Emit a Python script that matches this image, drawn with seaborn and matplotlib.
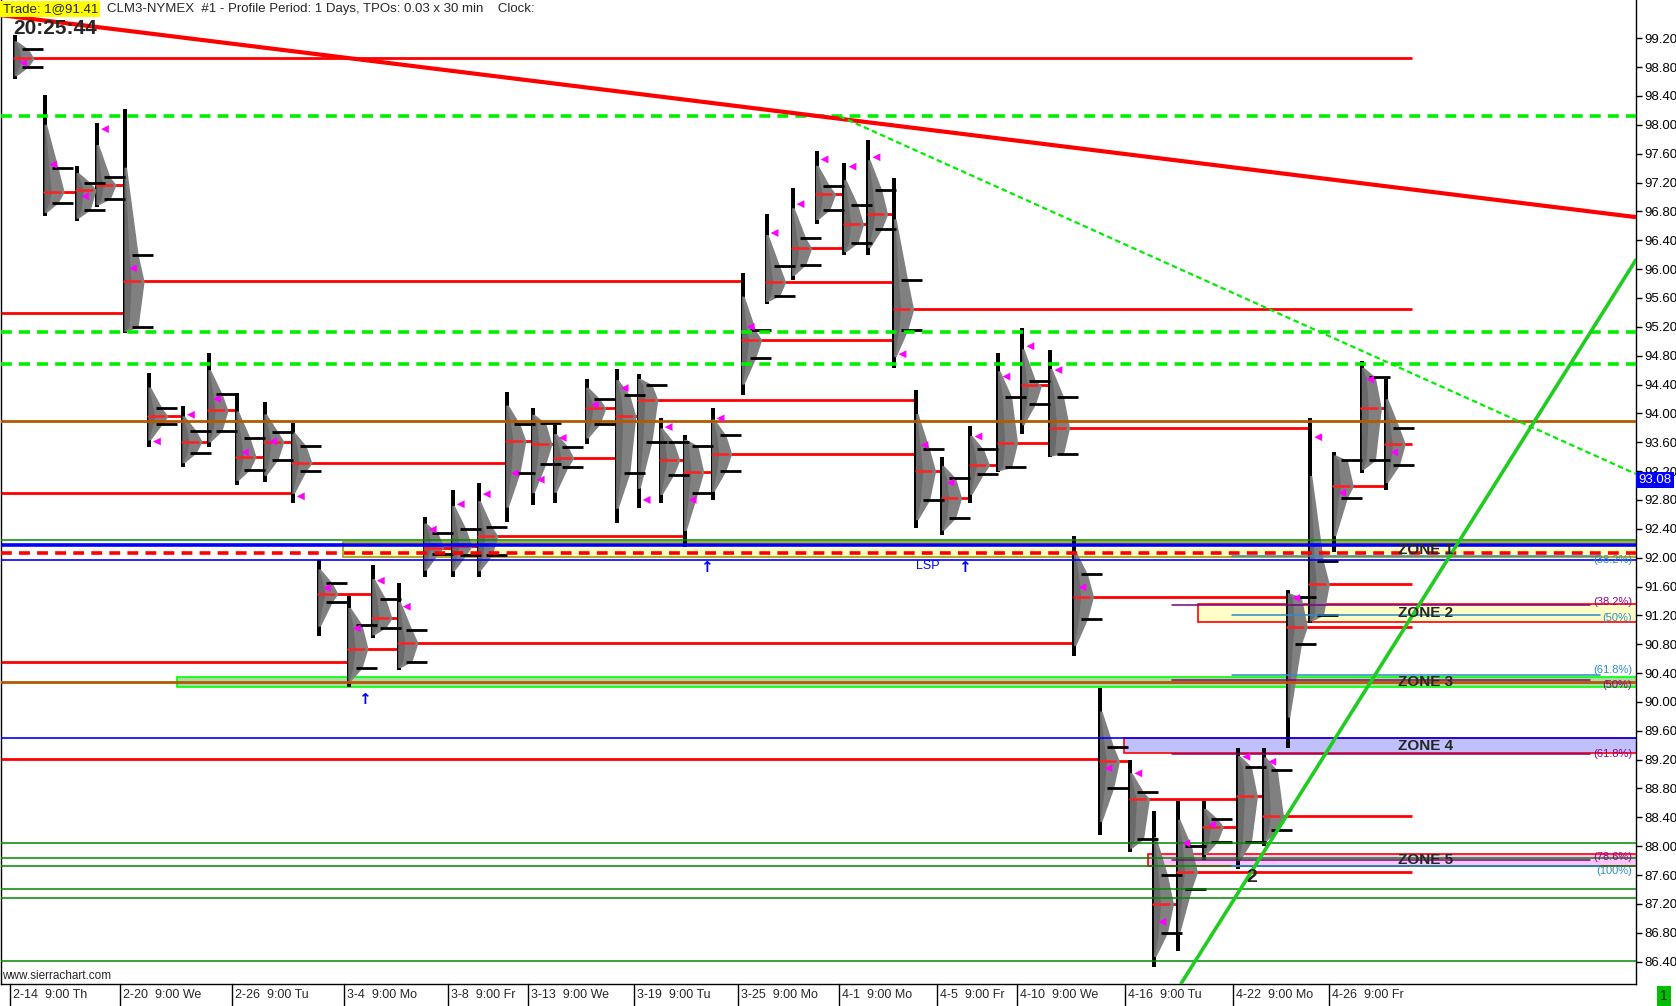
import numpy as np
import pandas as pd
import seaborn as sns
import matplotlib.pyplot as plt
import matplotlib.transforms as mtransforms
from matplotlib.patches import Rectangle

# ---- daily TPO profiles (x = chart bar of each session, prices)
bar = [6, 21, 37, 47, 61, 73, 90, 103, 117, 131, 145, 158, 173, 185, 198, 211, 225, 238, 252, 265,
       276, 292, 307, 318, 329, 341, 355, 370, 382, 395, 407, 421, 433, 446, 457, 470, 484, 498, 510, 524,
       536, 549, 564, 576, 588, 601, 618, 631, 643, 654, 666, 680, 692]
high = [99.24, 98.41, 97.43, 98.03, 98.22, 94.56, 94.10, 94.83, 94.28, 94.16,
        93.87, 91.97, 91.47, 91.90, 91.65, 92.57, 92.94, 93.03, 94.29, 94.07,
        93.84, 94.47, 94.61, 94.54, 93.93, 93.70, 94.07, 95.94, 96.77, 97.13,
        97.63, 97.47, 97.79, 97.26, 94.33, 93.39, 93.82, 94.83, 95.19, 94.88,
        92.30, 90.20, 89.20, 88.49, 88.62, 88.62, 89.36, 89.36, 91.55, 93.93,
        93.47, 94.73, 94.47]
low = [98.63, 96.73, 96.66, 96.86, 95.11, 93.54, 93.26, 93.54, 93.01, 93.05,
       92.76, 90.91, 90.21, 90.89, 90.44, 91.73, 91.73, 91.73, 92.50, 92.73,
       92.76, 93.58, 92.48, 92.69, 92.76, 92.15, 92.80, 94.25, 95.52, 95.85,
       96.63, 96.19, 96.19, 94.63, 92.41, 92.31, 92.76, 93.19, 93.72, 93.40,
       90.63, 88.15, 87.92, 86.33, 86.55, 87.81, 87.69, 88.00, 89.36, 91.09,
       92.08, 93.17, 92.94]
poc = [98.92, 97.07, 97.10, 97.17, 95.83, 93.96, 93.61, 94.04, 93.40, 93.61,
       93.31, 91.50, 90.74, 91.16, 90.82, 92.14, 92.16, 92.30, 93.62, 93.57,
       93.38, 94.07, 93.96, 94.19, 93.35, 93.19, 93.44, 95.02, 95.82, 96.29,
       97.04, 96.62, 96.76, 95.44, 93.20, 92.83, 93.28, 93.59, 94.39, 93.80,
       91.46, 89.18, 88.66, 87.20, 87.64, 88.27, 88.69, 88.42, 91.04, 91.63,
       92.99, 94.07, 93.58]
vah = [99.05, 97.40, 97.20, 97.27, 96.20, 94.07, 93.76, 94.27, 93.66, 93.74,
       93.55, 91.65, 91.07, 91.42, 91.00, 92.34, 92.40, 92.43, 93.85, 93.86,
       93.54, 94.20, 94.25, 94.40, 93.60, 93.55, 93.70, 95.15, 96.04, 96.43,
       97.15, 96.89, 97.10, 95.85, 93.50, 93.10, 93.50, 94.23, 94.45, 94.23,
       91.77, 89.38, 88.75, 87.60, 88.00, 88.38, 89.10, 89.05, 91.45, 91.95,
       93.35, 94.50, 93.80]
val = [98.80, 96.92, 96.82, 96.97, 95.20, 93.85, 93.45, 93.76, 93.22, 93.36,
       93.20, 91.38, 90.47, 91.03, 90.56, 92.05, 92.03, 92.03, 93.17, 93.30,
       93.25, 93.85, 93.17, 93.60, 93.15, 92.90, 93.20, 94.77, 95.63, 96.06,
       96.82, 96.36, 96.55, 95.15, 92.80, 92.55, 93.16, 93.25, 94.13, 93.44,
       91.15, 88.80, 88.10, 86.80, 87.40, 88.06, 88.06, 88.22, 90.80, 91.20,
       92.83, 93.35, 93.28]
close = [98.86, 97.45, 97.01, 97.94, 96.01, 93.61, 93.98, 94.20, 93.46, 93.61,
         92.85, 91.58, 91.02, 91.68, 91.32, 92.39, 92.74, 92.88, 93.17, 93.08,
         93.66, 94.12, 94.35, 92.80, 93.81, 92.80, 93.93, 95.20, 96.50, 96.90,
         97.52, 97.42, 97.55, 94.82, 93.56, 93.04, 93.68, 94.51, 94.93, 94.60,
         91.59, 89.08, 89.01, 86.95, 88.04, 88.30, 89.24, 89.17, 91.44, 93.67,
         92.90, 94.47, 93.46]

# naked POCs of sessions left of the visible range
prior_poc = [95.39, 92.90, 90.56, 89.21]

# time scale labels
tick_session = [0, 4, 8, 12, 16, 19, 23, 27, 31, 35, 38, 42, 46, 50]
tick_label = ["2-14  9:00 Th", "2-20  9:00 We", "2-26  9:00 Tu", "3-4  9:00 Mo", "3-8  9:00 Fr",
              "3-13  9:00 We", "3-19  9:00 Tu", "3-25  9:00 Mo", "4-1  9:00 Mo", "4-5  9:00 Fr",
              "4-10  9:00 We", "4-16  9:00 Tu", "4-22  9:00 Mo", "4-26  9:00 Fr"]

# drawn levels
green_dash_levels = [98.12, 95.13, 94.69]
brown_levels = [93.90, 90.27]
thin_green_levels = [92.25, 88.05, 87.84, 87.73, 87.40, 87.28, 86.41]
blue_thin_levels = [91.97, 89.50]
blue_thick_level = 92.17
red_dash_level = 92.07

zone_name = ["ZONE 1", "ZONE 2", "ZONE 3", "ZONE 4", "ZONE 5"]
zone_low = [92.01, 91.11, 90.21, 89.29, 87.72]
zone_high = [92.21, 91.36, 90.35, 89.50, 87.89]
zone_from = [12, 45, 6, 42, 43]
zone_face = ["#ffffc4", "#ffffc8", "#aadcaa", "#c0c0fc", "#ffc4ff"]
zone_edge = ["#a0a000", "#ff0000", "#00ff00", "#ff0000", "#ff0000"]

fib_purple = [91.35, 90.30, 89.28, 87.81]
fib_purple_lbl = ["(38.2%)", "(50%)", "(61.8%)", "(78.6%)"]
fib_teal = [92.02, 91.20, 90.38, 87.72]
fib_teal_lbl = ["(38.2%)", "(50%)", "(61.8%)", "(100%)"]

# trend line anchors (bar, price)
red_trend = ([0, 818], [99.52, 96.72])
green_dash_trend = ([419.5, 818], [98.12, 93.16])
green_trend = ([590.5, 818], [86.10, 96.13])

arrow_bar = [182, 353, 482]
arrow_price = [90.04, 91.87, 91.87]
last_price = 93.08

# ---------------------------------------------------------------- figure
sns.set_style("white")
plt.rcParams["font.family"] = ["Liberation Sans", "DejaVu Sans"]

fig = plt.figure(figsize=(16.76, 10.06), dpi=100)
ax = fig.add_axes([0.0006, 22 / 1006, 1636 / 1676 - 0.0006, 984 / 1006])
ax.set_xlim(0, 818)
ax.set_ylim(86.09, 99.73)

ax.spines["top"].set_visible(False)
for s in ["left", "right", "bottom"]:
    ax.spines[s].set_color("black")
    ax.spines[s].set_linewidth(1)

# zones
for name, lo_, hi_, s, fc, ec in zip(zone_name, zone_low, zone_high, zone_from, zone_face, zone_edge):
    x0 = bar[s] - 2
    ax.add_patch(Rectangle((x0, lo_), 820 - x0, hi_ - lo_, facecolor=fc, edgecolor=ec,
                           lw=1.2, zorder=1))

# profiles
W = 10
grey = "#808080"
for i in range(len(bar)):
    x, lo_, hi_ = bar[i], low[i], high[i]
    ax.add_patch(Rectangle((x, lo_), 2.0, hi_ - lo_, facecolor="black", edgecolor="none", zorder=4))
    ya = val[i] - 0.7 * (val[i] - lo_)
    yb = vah[i] + 0.6 * (hi_ - vah[i])
    yy = np.linspace(ya, yb, 100)
    ww = np.interp(yy, [ya, val[i], poc[i], vah[i], yb], [1.2, 0.7 * W, W, 0.7 * W, 1.2])
    ax.fill_betweenx(yy, x + 0.6, x + 0.6 + ww, color=grey, lw=0, zorder=4.2)
    ax.fill_betweenx(yy, x + 0.6, x + 0.6 + 0.35 * ww, color="#6a6a6a", lw=0, zorder=4.25)
    ax.plot([x + 0.6, x + 0.85 * W], [poc[i], poc[i]], color="#ff2020", lw=1.8, zorder=4.4)
    for lv in (vah[i], val[i]):
        ax.plot([x + 4.5, x + 15], [lv, lv], color="black", lw=2, zorder=4.5,
                solid_capstyle="butt")

# naked POC lines: run right until a later session trades through the level
end_bar = bar[-1] + 14


def poc_end(level, start):
    for j in range(start, len(bar)):
        if low[j] <= level <= high[j]:
            return bar[j]
    return end_bar


for i in range(len(bar)):
    ax.plot([bar[i] + 7, poc_end(poc[i], i + 1)], [poc[i], poc[i]], color="#ff0000", lw=2,
            zorder=3, solid_capstyle="butt")
for lv in prior_poc:
    ax.plot([0, poc_end(lv, 0)], [lv, lv], color="#ff0000", lw=2, zorder=3, solid_capstyle="butt")

# horizontal levels
for lv in green_dash_levels:
    ax.axhline(lv, color="#00ee00", lw=2.6, ls=(0, (3, 2)), zorder=5)
for lv in brown_levels:
    ax.axhline(lv, color="#b35a00", lw=2, zorder=5)
for lv in thin_green_levels:
    ax.axhline(lv, color="#008800", lw=1.1, zorder=5)
for lv in blue_thin_levels:
    ax.axhline(lv, color="#0000ff", lw=1.2, zorder=5)
ax.axhline(blue_thick_level, color="#0000ff", lw=2.6, zorder=5)
ax.axhline(red_dash_level, color="#ff0000", lw=2.6, ls=(0, (3, 2)), zorder=5)

# fib levels (labels nudged so neighbouring ones stay readable)
purple_nudge = [0.03, -0.07, 0.0, 0.04]
teal_nudge = [-0.05, -0.04, 0.06, -0.06]
for lv, lb, dy in zip(fib_purple, fib_purple_lbl, purple_nudge):
    ax.plot([bar[44] - 2, 795], [lv, lv], color="#800080", lw=1.1, zorder=5)
    ax.text(816, lv + dy, lb, color="#900090", fontsize=8, ha="right", va="center", zorder=7)
for lv, lb, dy in zip(fib_teal, fib_teal_lbl, teal_nudge):
    ax.plot([bar[46] - 2, 800], [lv, lv], color="#2a8cc8", lw=1.1, zorder=5)
    ax.text(816, lv + dy, lb, color="#2a8cc8", fontsize=8, ha="right", va="center", zorder=7)

# open/close markers
mk = pd.DataFrame({"bar": np.array(bar) + 5, "close": close})
sns.scatterplot(data=mk, x="bar", y="close", marker="<", color="#ff00ff", s=32,
                edgecolor="none", ax=ax, zorder=6, legend=False)

# trend lines
ax.plot(*red_trend, color="#ff0000", lw=3, zorder=6, solid_capstyle="butt")
ax.plot(*green_dash_trend, color="#00ee00", lw=1.6, ls=(0, (2.5, 1.5)), zorder=6)
ax.plot(*green_trend, color="#1fcc1f", lw=2.6, zorder=6)

# zone labels
for name, lo_, hi_ in zip(zone_name, zone_low, zone_high):
    ax.text(712.5, (lo_ + hi_) / 2, name, fontsize=11, fontweight="bold", ha="center",
            va="center", zorder=8)

ax.text(626, 87.56, "2", fontsize=14, fontweight="bold", ha="center", va="center", zorder=8)
ax.text(463.5, 91.88, "LSP", color="#0000ff", fontsize=9, ha="center", va="center", zorder=8)
for bx, py in zip(arrow_bar, arrow_price):
    ax.text(bx, py, "\u2191", color="#0000ff", fontsize=11, ha="center", va="center",
            family="DejaVu Sans", fontweight="bold", zorder=8)

# price scale
yt = np.round(np.arange(86.4, 99.21, 0.4), 2)
ax.set_yticks(yt)
ax.set_yticklabels([f"{v:.2f}" for v in yt])
ax.yaxis.tick_right()
ax.tick_params(axis="y", right=True, left=False, length=4, width=1, direction="out",
               pad=2, labelsize=9.5, colors="black")
ax.set_xticks([])
ax.set_xlabel("")
ax.set_ylabel("")

yblend = mtransforms.blended_transform_factory(ax.transAxes, ax.transData)
ax.text(1.0015, last_price, "93.08", transform=yblend, color="white", fontsize=9.5,
        va="center", ha="left", zorder=9,
        bbox=dict(facecolor="#0000ff", edgecolor="none", pad=1.5))

# time scale
xblend = mtransforms.blended_transform_factory(ax.transData, ax.transAxes)
for s, lb in zip(tick_session, tick_label):
    xs = bar[s] - 1.5
    ax.plot([xs, xs], [0, -22 / 984], color="black", lw=1, transform=xblend, clip_on=False)
    ax.text(xs + 1.5, -11 / 984, lb, fontsize=9, ha="left", va="center", transform=xblend)

# header
fig.text(0.0015, 1 - 9 / 1006, "Trade: 1@91.41", fontsize=9.5, va="center", ha="left",
         bbox=dict(facecolor="#ffff00", edgecolor="none", pad=1.5))
fig.text(107 / 1676, 1 - 9 / 1006,
         "CLM3-NYMEX  #1 - Profile Period: 1 Days, TPOs: 0.03 x 30 min    Clock:",
         fontsize=9.5, va="center", ha="left")
fig.text(13 / 1676, 1 - 28 / 1006, "20:25:44", fontsize=15, fontweight="bold", va="center",
         ha="left")
fig.text(0.001, 1 - 976 / 1006, "www.sierrachart.com", fontsize=8.5, va="center", ha="left")
fig.text(1664 / 1676, 1 - 996 / 1006, "1", fontsize=10, va="center", ha="center",
         bbox=dict(facecolor="#00c000", edgecolor="none", pad=2.5))

plt.savefig("out.png", dpi=100)
